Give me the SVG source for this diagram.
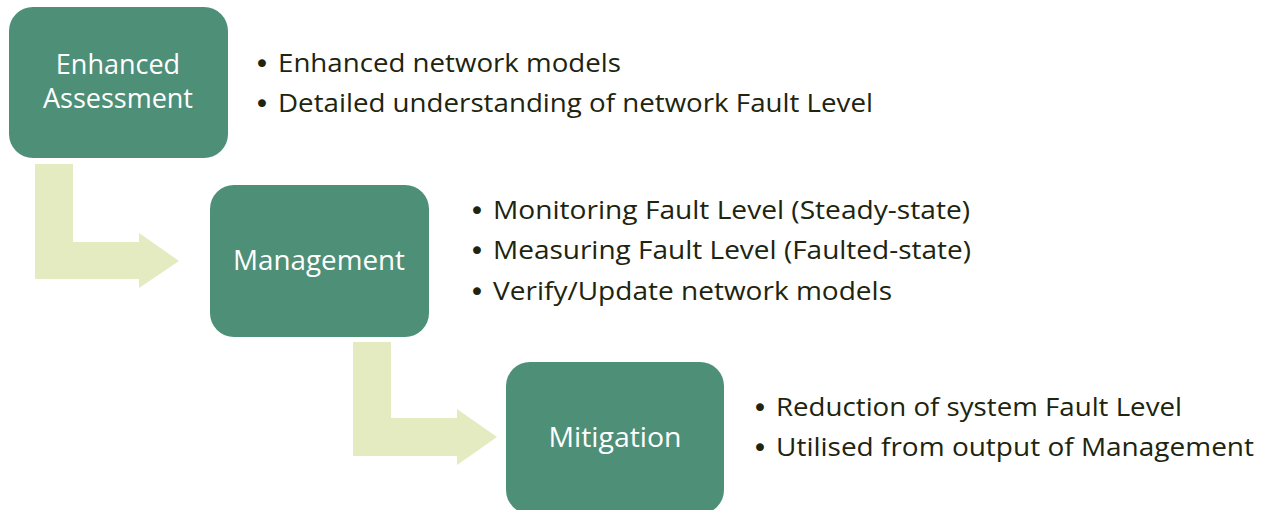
<svg xmlns="http://www.w3.org/2000/svg" width="1261" height="510" viewBox="0 0 1261 510">
<style>
.box{fill:#4E8F78;}
.arrow{fill:#E4EBC0;}
.lbl{font-family:"Open Sans","Liberation Sans",sans-serif;font-size:27px;fill:#FFFFFF;text-anchor:middle;}
.bt{font-family:"Open Sans","Liberation Sans",sans-serif;font-size:25px;fill:#20240E;}
.bu{font-family:"DejaVu Sans",sans-serif;font-size:27px;fill:#20240E;}
</style>
<rect width="1261" height="510" fill="#FFFFFF"/>
<g id="connectors">
<path class="arrow" d="M35,164 H73 V242 H139 V233 L179,261 L139,288 V279 H35 Z"/>
<path class="arrow" d="M353,342 H391 V418 H457 V409 L497,437 L457,465 V456 H353 Z"/>
</g>
<g id="node-enhanced">
<rect class="box" x="9" y="7" width="219" height="151" rx="24"/>
<text class="lbl" x="118" y="74">Enhanced</text>
<text class="lbl" x="118" y="108" textLength="150" lengthAdjust="spacingAndGlyphs">Assessment</text>
</g>
<g id="node-management">
<rect class="box" x="210" y="185" width="219" height="152" rx="24"/>
<text class="lbl" x="319" y="270" textLength="172" lengthAdjust="spacingAndGlyphs">Management</text>
</g>
<g id="node-mitigation">
<rect class="box" x="506" y="362" width="218" height="152" rx="24"/>
<text class="lbl" x="615" y="447" textLength="133" lengthAdjust="spacingAndGlyphs">Mitigation</text>
</g>
<g id="text-enhanced">
<text class="bu" x="254" y="73">•</text>
<text class="bt" x="278" y="72" textLength="343" lengthAdjust="spacingAndGlyphs">Enhanced network models</text>
<text class="bu" x="254" y="113">•</text>
<text class="bt" x="278" y="112" textLength="595" lengthAdjust="spacingAndGlyphs">Detailed understanding of network Fault Level</text>
</g>
<g id="text-management">
<text class="bu" x="469" y="220">•</text>
<text class="bt" x="493" y="219" textLength="477" lengthAdjust="spacingAndGlyphs">Monitoring Fault Level (Steady-state)</text>
<text class="bu" x="469" y="260">•</text>
<text class="bt" x="493" y="259" textLength="478" lengthAdjust="spacingAndGlyphs">Measuring Fault Level (Faulted-state)</text>
<text class="bu" x="469" y="301">•</text>
<text class="bt" x="493" y="300" textLength="399" lengthAdjust="spacingAndGlyphs">Verify/Update network models</text>
</g>
<g id="text-mitigation">
<text class="bu" x="752" y="417">•</text>
<text class="bt" x="776" y="416" textLength="406" lengthAdjust="spacingAndGlyphs">Reduction of system Fault Level</text>
<text class="bu" x="752" y="457">•</text>
<text class="bt" x="776" y="456" textLength="478" lengthAdjust="spacingAndGlyphs">Utilised from output of Management</text>
</g>
</svg>
